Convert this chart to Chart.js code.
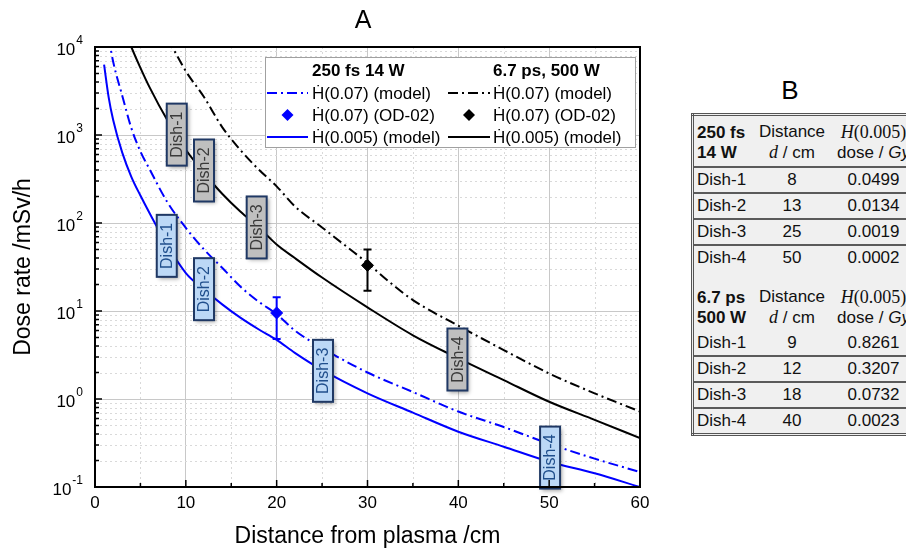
<!DOCTYPE html>
<html>
<head>
<meta charset="utf-8">
<script src="https://cdn.jsdelivr.net/npm/chart.js@4.4.1/dist/chart.umd.min.js"></script>
<style>
  html, body { margin: 0; padding: 0; background: #fff; overflow: hidden; }
  body { width: 906px; height: 550px; position: relative; font-family: "Liberation Sans", Arial, sans-serif; }
  #wrap { position: absolute; left: 0; top: 0; width: 680px; height: 550px; }
  #titleB { position: absolute; left: 765px; top: 74px; width: 50px; text-align: center; font-size: 26px; line-height: 32px; color: #000; }
  #tb { position: absolute; left: 691px; top: 113px; width: 232px; border-collapse: collapse;
        background: #f0f0f0; border: 3px double #555; font-size: 17px; color: #111; }
  #tb td { padding: 0; white-space: nowrap; }
  #tb td.c1 { padding-left: 3px; text-align: left; width: 60px; }
  #tb td.c2 { text-align: center; width: 70px; }
  #tb td.c3 { text-align: center; }
  #tb tr.row td { height: 24px; line-height: 24px; border-bottom: 2px solid #5a5a5a; }
  #tb tr.row.last td { border-bottom: none; }
  #tb tr.hd td { height: 47px; line-height: 20px; vertical-align: middle; padding-top: 3px; border-bottom: 2px solid #5a5a5a; }
  #tb tr.hd2 td { height: 58px; line-height: 20px; vertical-align: bottom; padding-bottom: 3px; }
  .serif { font-family: "Liberation Serif", "Times New Roman", serif; font-size: 18px; }
</style>
</head>
<body>
<div id="wrap"><canvas id="chart"></canvas></div>
<div id="titleB">B</div>
<table id="tb"><tbody id="tbody"></tbody></table>
<script>
// 250 fs, 14 W
const fsModel007X = [1.5, 2, 3, 4, 5, 6, 8, 10, 12, 14, 16, 18, 20, 22, 25, 30, 35, 40, 45, 50, 55, 60];
const fsModel007Y = [13000, 6800, 2800, 1200, 650, 410, 170, 88, 50, 31, 19, 12.8, 9.2, 6.0, 3.8, 2.0, 1.2, 0.72, 0.48, 0.31, 0.21, 0.148];
const fsModel0005X = [1, 1.5, 2, 3, 4, 5, 6, 8, 10, 12, 14, 16, 18, 20, 22, 25, 30, 35, 40, 45, 50, 55, 60];
const fsModel0005Y = [6300, 2700, 1480, 630, 335, 205, 130, 55, 27, 17.5, 11.9, 8.4, 6.2, 4.7, 3.35, 2.14, 1.16, 0.7, 0.425, 0.287, 0.194, 0.143, 0.1];
const fsMeasX = [20];
const fsMeasY = [9.5];
const fsMeasLow = [4.8];
const fsMeasHigh = [14.3];

// 6.7 ps, 500 W
const psModel007X = [8, 9, 10, 12, 14, 16, 18, 20, 22, 25, 28, 30, 32.5, 35, 40, 45, 50, 55, 60];
const psModel007Y = [12300, 8100, 5300, 2700, 1230, 676, 407, 261, 155, 89, 51, 35, 21, 13.3, 6.8, 3.6, 1.95, 1.16, 0.72];
const psModel0005X = [3.5, 4, 5, 6, 8, 10, 12, 14, 16, 18, 20, 22, 25, 30, 35, 40, 45, 50, 55, 60];
const psModel0005Y = [13500, 10000, 5800, 3500, 1450, 680, 370, 215, 135, 90, 57, 40, 24, 11, 5.3, 2.9, 1.64, 0.93, 0.58, 0.36];
const psMeasX = [30];
const psMeasY = [33];
const psMeasLow = [17];
const psMeasHigh = [50];

const xTicks = [0, 10, 20, 30, 40, 50, 60];
const xMinorTicks = [5, 15, 25, 35, 45, 55];
const yTicks = [0.1, 1, 10, 100, 1000, 10000];

// dish tags (centre, in data units)
const dishNames = ["Dish-1", "Dish-2", "Dish-3", "Dish-4"];
const fsTagX = [7.9, 12.0, 25.1, 50.1];
const fsTagY = [55, 17.7, 2.09, 0.216];
const psTagX = [9.0, 12.0, 17.8, 39.9];
const psTagY = [1010, 395, 89, 2.81];

// table B
const tableFsDist = [8, 13, 25, 50];
const tableFsDose = ["0.0499", "0.0134", "0.0019", "0.0002"];
const tablePsDist = [9, 12, 18, 40];
const tablePsDose = ["0.8261", "0.3207", "0.0732", "0.0023"];

const FONT = "'Liberation Sans', Arial, sans-serif";
const BLUE = "#0000ff";
const BLACK = "#000000";
const DASHDOT = [10, 4, 2, 4];
const HDOT = "\u1E22";

function pts(xs, ys) {
  return xs.map((x, i) => ({ x: x, y: ys[i] }));
}

function modelLine(xs, ys, color, dash) {
  return {
    data: pts(xs, ys),
    borderColor: color,
    borderWidth: 2,
    borderDash: dash,
    pointRadius: 0,
    cubicInterpolationMode: "monotone",
    fill: false,
  };
}

function measPoints(xs, ys, low, high, color) {
  return {
    data: pts(xs, ys),
    showLine: false,
    pointStyle: "rectRot",
    pointRadius: 6,
    backgroundColor: color,
    borderColor: color,
    borderWidth: 1,
    errLow: low,
    errHigh: high,
  };
}

const datasets = [
  modelLine(fsModel007X, fsModel007Y, BLUE, DASHDOT),
  modelLine(fsModel0005X, fsModel0005Y, BLUE, []),
  modelLine(psModel007X, psModel007Y, BLACK, DASHDOT),
  modelLine(psModel0005X, psModel0005Y, BLACK, []),
  measPoints(fsMeasX, fsMeasY, fsMeasLow, fsMeasHigh, BLUE),
  measPoints(psMeasX, psMeasY, psMeasLow, psMeasHigh, BLACK),
];

function drawTag(ctx, px, py, text, fill, textColor) {
  const w = 20, h = 62;
  ctx.save();
  ctx.shadowColor = "rgba(0,0,0,0.35)";
  ctx.shadowBlur = 4;
  ctx.shadowOffsetX = 2;
  ctx.shadowOffsetY = 2;
  ctx.fillStyle = fill;
  ctx.fillRect(px - w / 2, py - h / 2, w, h);
  ctx.restore();
  ctx.save();
  ctx.strokeStyle = "#1f3864";
  ctx.lineWidth = 2;
  ctx.strokeRect(px - w / 2, py - h / 2, w, h);
  ctx.translate(px, py);
  ctx.rotate(-Math.PI / 2);
  ctx.fillStyle = textColor;
  ctx.font = "16px " + FONT;
  ctx.textAlign = "center";
  ctx.textBaseline = "middle";
  ctx.fillText(text, 0, 1);
  ctx.restore();
}

const decorPlugin = {
  id: "decor",
  beforeDatasetsDraw(chart) {
    const { ctx, chartArea: a, scales: { x, y } } = chart;
    ctx.save();
    ctx.strokeStyle = "#d9d9d9";
    ctx.lineWidth = 1;
    ctx.setLineDash([2, 3]);
    xMinorTicks.forEach((v) => {
      const px = Math.round(x.getPixelForValue(v)) + 0.5;
      ctx.beginPath();
      ctx.moveTo(px, a.top);
      ctx.lineTo(px, a.bottom);
      ctx.stroke();
    });
    for (let e = -1; e < 4; e++) {
      for (let k = 2; k <= 9; k++) {
        const py = Math.round(y.getPixelForValue(k * Math.pow(10, e))) + 0.5;
        ctx.beginPath();
        ctx.moveTo(a.left, py);
        ctx.lineTo(a.right, py);
        ctx.stroke();
      }
    }
    ctx.restore();
  },
  afterDatasetsDraw(chart) {
    const { ctx, chartArea: a, scales: { x, y } } = chart;

    // error bars
    chart.data.datasets.forEach((ds) => {
      if (!ds.errLow) return;
      ctx.save();
      ctx.strokeStyle = ds.borderColor;
      ctx.lineWidth = 2;
      ds.data.forEach((p, j) => {
        const px = x.getPixelForValue(p.x);
        const top = y.getPixelForValue(ds.errHigh[j]);
        const bot = y.getPixelForValue(ds.errLow[j]);
        ctx.beginPath();
        ctx.moveTo(px, top);
        ctx.lineTo(px, bot);
        ctx.moveTo(px - 4, top);
        ctx.lineTo(px + 4, top);
        ctx.moveTo(px - 4, bot);
        ctx.lineTo(px + 4, bot);
        ctx.stroke();
      });
      ctx.restore();
    });

    // dish tags
    dishNames.forEach((n, i) => {
      drawTag(ctx, x.getPixelForValue(psTagX[i]), y.getPixelForValue(psTagY[i]), n, "#bfbfbf", "#3a3a3a");
      drawTag(ctx, x.getPixelForValue(fsTagX[i]), y.getPixelForValue(fsTagY[i]), n, "#bcd8f6", "#1f4e8c");
    });

    // frame and inward ticks
    ctx.save();
    ctx.strokeStyle = "#000";
    ctx.lineWidth = 2;
    ctx.strokeRect(a.left, a.top, a.right - a.left, a.bottom - a.top);
    ctx.lineWidth = 1.5;
    ctx.beginPath();
    xTicks.forEach((v) => {
      const px = x.getPixelForValue(v);
      ctx.moveTo(px, a.bottom);
      ctx.lineTo(px, a.bottom - 7);
    });
    xMinorTicks.forEach((v) => {
      const px = x.getPixelForValue(v);
      ctx.moveTo(px, a.bottom);
      ctx.lineTo(px, a.bottom - 4);
    });
    yTicks.forEach((v) => {
      const py = y.getPixelForValue(v);
      ctx.moveTo(a.left, py);
      ctx.lineTo(a.left + 7, py);
    });
    for (let e = -1; e < 4; e++) {
      for (let k = 2; k <= 9; k++) {
        const py = y.getPixelForValue(k * Math.pow(10, e));
        ctx.moveTo(a.left, py);
        ctx.lineTo(a.left + 4, py);
      }
    }
    ctx.stroke();
    ctx.restore();

    // legend
    const ds = chart.data.datasets;
    const lx = 265, ly = 57, lw = 370, lh = 90;
    ctx.save();
    ctx.fillStyle = "#fff";
    ctx.fillRect(lx, ly, lw, lh);
    ctx.strokeStyle = "#a0a0a0";
    ctx.lineWidth = 1;
    ctx.strokeRect(lx + 0.5, ly + 0.5, lw, lh);
    ctx.fillStyle = "#000";
    ctx.textBaseline = "middle";
    ctx.textAlign = "left";
    ctx.font = "bold 17px " + FONT;
    ctx.fillText("250 fs 14 W", 312, 71);
    ctx.fillText("6.7 ps, 500 W", 493, 71);
    const cols = [
      { x0: 267, x1: 308, tx: 312, items: [ds[0], ds[4], ds[1]] },
      { x0: 448, x1: 490, tx: 493, items: [ds[2], ds[5], ds[3]] },
    ];
    const rowY = [93, 115, 137];
    const texts = [HDOT + "(0.07) (model)", HDOT + "(0.07) (OD-02)", HDOT + "(0.005) (model)"];
    ctx.font = "17px " + FONT;
    cols.forEach((c) => {
      c.items.forEach((d, r) => {
        const yy = rowY[r];
        if (d.showLine === false) {
          ctx.fillStyle = d.backgroundColor;
          const cx = (c.x0 + c.x1) / 2, s = 6;
          ctx.beginPath();
          ctx.moveTo(cx, yy - s);
          ctx.lineTo(cx + s, yy);
          ctx.lineTo(cx, yy + s);
          ctx.lineTo(cx - s, yy);
          ctx.closePath();
          ctx.fill();
        } else {
          ctx.strokeStyle = d.borderColor;
          ctx.lineWidth = 2;
          ctx.setLineDash(d.borderDash || []);
          ctx.beginPath();
          ctx.moveTo(c.x0, yy);
          ctx.lineTo(c.x1, yy);
          ctx.stroke();
          ctx.setLineDash([]);
        }
        ctx.fillStyle = "#000";
        ctx.fillText(texts[r], c.tx, yy + 1);
      });
    });
    ctx.restore();
  },
  afterDraw(chart) {
    const { ctx, chartArea: a, scales: { y } } = chart;
    ctx.save();
    ctx.fillStyle = "#000";
    ctx.textBaseline = "middle";
    const right = a.left - 12;
    yTicks.forEach((v) => {
      const py = y.getPixelForValue(v);
      const ex = String(Math.round(Math.log10(v)));
      ctx.font = "12px " + FONT;
      const ew = ctx.measureText(ex).width;
      ctx.textAlign = "left";
      ctx.fillText(ex, right - ew, py - 6);
      ctx.font = "17px " + FONT;
      ctx.textAlign = "right";
      ctx.fillText("10", right - ew - 1, py + 3);
    });
    ctx.font = "25px " + FONT;
    ctx.textAlign = "center";
    ctx.fillText("A", 363, 21);
    ctx.restore();
  },
};

new Chart(document.getElementById("chart"), {
  type: "line",
  data: { datasets: datasets },
  options: {
    responsive: true,
    maintainAspectRatio: false,
    animation: false,
    events: [],
    layout: { padding: { top: 47, right: 40, left: 0, bottom: 0 } },
    plugins: {
      legend: { display: false },
      tooltip: { enabled: false },
    },
    scales: {
      x: {
        type: "linear",
        min: 0,
        max: 60,
        afterBuildTicks: (s) => { s.ticks = xTicks.map((v) => ({ value: v })); },
        afterFit: (s) => { s.height = 63; },
        grid: { color: "#c8c8c8", drawTicks: false },
        border: { display: false },
        ticks: { color: "#000", font: { size: 17, family: FONT }, padding: 6, maxRotation: 0 },
        title: {
          display: true,
          text: "Distance from plasma /cm",
          color: "#000",
          font: { size: 23, family: FONT },
          padding: { top: 0, bottom: 0 },
        },
      },
      y: {
        type: "logarithmic",
        min: 0.1,
        max: 10000,
        afterBuildTicks: (s) => { s.ticks = yTicks.map((v) => ({ value: v, major: true })); },
        afterFit: (s) => { s.width = 95; },
        grid: { color: "#c8c8c8", drawTicks: false },
        border: { display: false },
        ticks: { display: false },
        title: {
          display: true,
          text: "Dose rate /mSv/h",
          color: "#000",
          font: { size: 23, family: FONT },
          padding: { top: 10, bottom: 0 },
        },
      },
    },
  },
  plugins: [decorPlugin],
});

// table B
function addHeader(cls, a, b) {
  const tr = document.createElement("tr");
  tr.className = cls;
  tr.innerHTML =
    '<td class="c1"><b>' + a + "<br>" + b + "</b></td>" +
    '<td class="c2">Distance<br><i class="serif">d</i> / cm</td>' +
    '<td class="c3"><span class="serif"><i>H</i>(0.005)</span><br>dose / <i>Gy</i></td>';
  document.getElementById("tbody").appendChild(tr);
}
function addRows(dist, dose) {
  dist.forEach((d, i) => {
    const tr = document.createElement("tr");
    tr.className = "row" + (i === dist.length - 1 ? " last" : "");
    tr.innerHTML = '<td class="c1">' + dishNames[i] + '</td><td class="c2">' + d + '</td><td class="c3">' + dose[i] + "</td>";
    document.getElementById("tbody").appendChild(tr);
  });
}
addHeader("hd", "250 fs", "14 W");
addRows(tableFsDist, tableFsDose);
addHeader("hd2", "6.7 ps", "500 W");
addRows(tablePsDist, tablePsDose);
</script>
</body>
</html>
